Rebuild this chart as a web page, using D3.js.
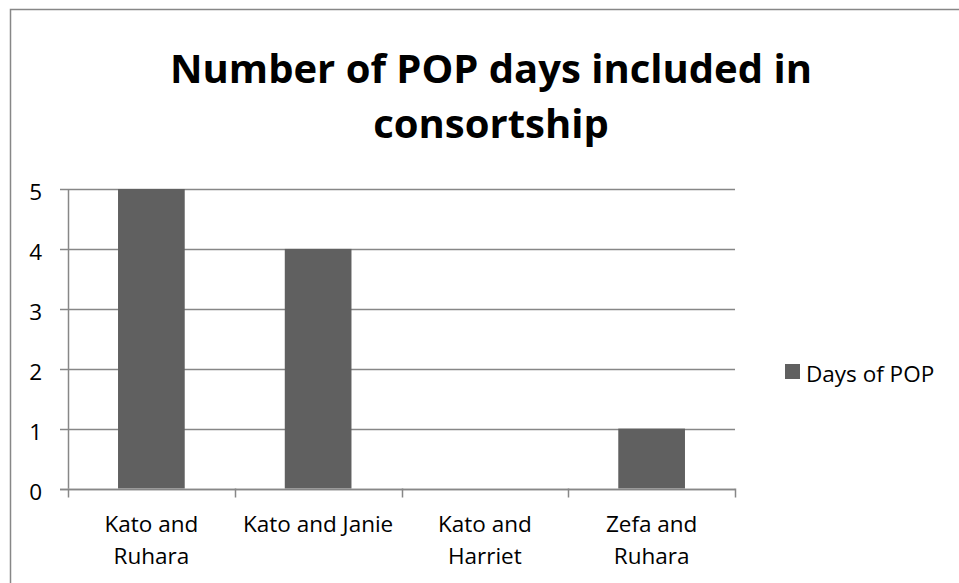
<!DOCTYPE html>
<html>
<head>
<meta charset="utf-8">
<script src="https://cdn.jsdelivr.net/npm/d3@7"></script>
<style>
  html, body { margin: 0; padding: 0; background: #fff; }
  svg { display: block; }
</style>
</head>
<body>
<svg id="chart" width="959" height="583"></svg>
<script>
const categories = [["Kato and", "Ruhara"], ["Kato and Janie"], ["Kato and", "Harriet"], ["Zefa and", "Ruhara"]];
const values = [5, 4, 0, 1];
const yTicks = [0, 1, 2, 3, 4, 5];
const seriesName = "Days of POP";
const titleLines = ["Number of POP days included in", "consortship"];

(function () {
const svg = d3.select("#chart");
const font = "'Open Sans', 'Noto Sans', sans-serif";
const barColor = "#606060";
const lineColor = "#878787";

// outer chart border
svg.append("rect")
  .attr("x", 10.5).attr("y", 9.5)
  .attr("width", 1000).attr("height", 700)
  .attr("fill", "none").attr("stroke", lineColor).attr("stroke-width", 1.5);

const pLeft = 68, pRight = 735, pTop = 189, pBottom = 488.5;

const x = d3.scaleBand().domain(d3.range(categories.length)).range([pLeft, pRight]).paddingInner(0).paddingOuter(0);
const y = d3.scaleLinear().domain([0, 5]).range([pBottom, pTop]);

// gridlines
svg.append("g").selectAll("line").data(yTicks).join("line")
  .attr("x1", pLeft - 8).attr("x2", pRight)
  .attr("y1", d => Math.round(y(d)) + 0.5).attr("y2", d => Math.round(y(d)) + 0.5)
  .attr("stroke", lineColor).attr("stroke-width", 1.5);

// y axis line
svg.append("line")
  .attr("x1", pLeft + 0.5).attr("x2", pLeft + 0.5)
  .attr("y1", pTop).attr("y2", pBottom)
  .attr("stroke", lineColor).attr("stroke-width", 1.5);

// x tick marks at category boundaries
const boundaries = d3.range(categories.length + 1).map(i => pLeft + i * x.bandwidth());
svg.append("g").selectAll("line").data(boundaries).join("line")
  .attr("x1", d => Math.round(d) + 0.5).attr("x2", d => Math.round(d) + 0.5)
  .attr("y1", pBottom).attr("y2", pBottom + 9)
  .attr("stroke", lineColor).attr("stroke-width", 1.5);

// bars
const barW = x.bandwidth() / 2.5;
svg.append("g").selectAll("rect").data(values).join("rect")
  .attr("x", (d, i) => x(i) + (x.bandwidth() - barW) / 2)
  .attr("width", barW)
  .attr("y", d => y(d))
  .attr("height", d => y(0) - y(d))
  .attr("fill", barColor);

// redraw axis baseline over bars
svg.append("line")
  .attr("x1", pLeft - 8).attr("x2", pRight)
  .attr("y1", Math.round(y(0)) + 0.5).attr("y2", Math.round(y(0)) + 0.5)
  .attr("stroke", lineColor).attr("stroke-width", 1.5);

// y labels
svg.append("g").selectAll("text").data(yTicks).join("text")
  .attr("x", 42).attr("y", d => y(d) + 11)
  .attr("text-anchor", "end")
  .attr("font-family", font).attr("font-size", 22.5).attr("fill", "#000")
  .text(d => d);

// x labels
const xl = svg.append("g").selectAll("text").data(categories).join("text")
  .attr("text-anchor", "middle")
  .attr("font-family", font).attr("font-size", 22.5).attr("fill", "#000");
xl.selectAll("tspan").data((d, i) => d.map(s => ({ s, i }))).join("tspan")
  .attr("x", d => x(d.i) + x.bandwidth() / 2)
  .attr("y", (d, j) => 532 + j * 31.5)
  .text(d => d.s);

// title
const t = svg.append("text")
  .attr("text-anchor", "middle")
  .attr("font-family", font).attr("font-weight", "bold").attr("font-size", 40).attr("fill", "#000");
t.selectAll("tspan").data(titleLines).join("tspan")
  .attr("x", 491).attr("y", (d, i) => 83 + i * 55)
  .text(d => d);

// legend
svg.append("rect").attr("x", 785).attr("y", 364).attr("width", 15).attr("height", 15).attr("fill", barColor);
svg.append("text").attr("x", 806).attr("y", 381.5)
  .attr("font-family", font).attr("font-size", 22.5).attr("fill", "#000")
  .text(seriesName);
})();
</script>
</body>
</html>
